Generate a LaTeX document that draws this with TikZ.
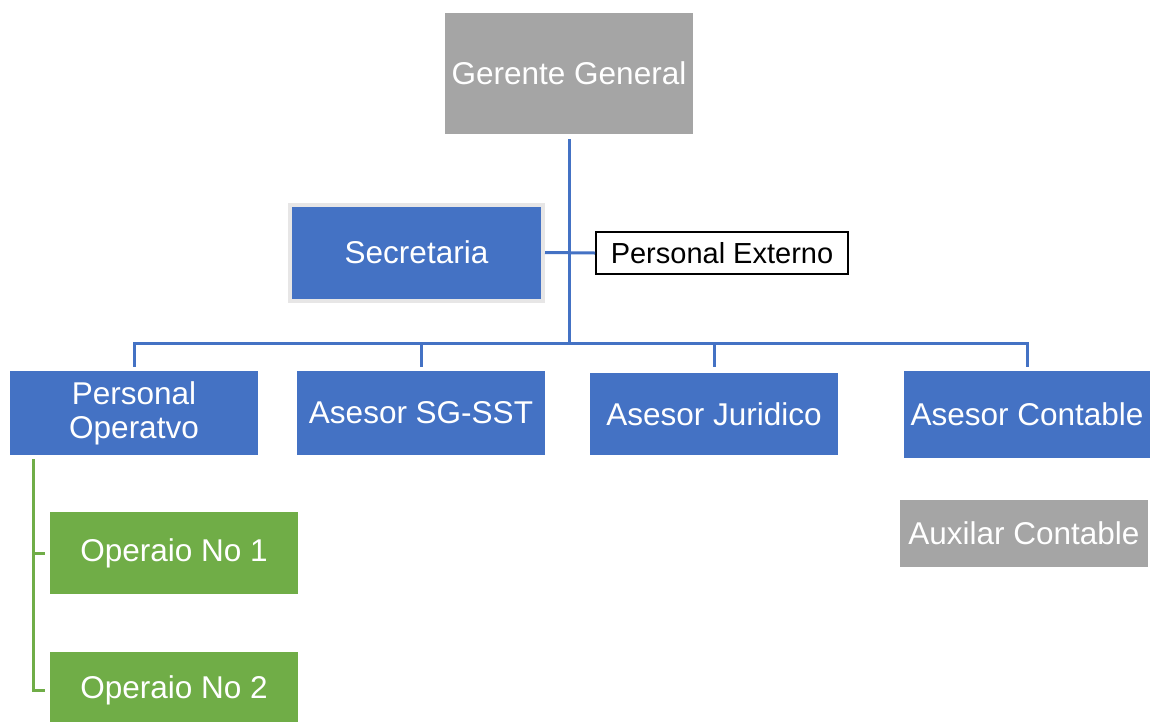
\documentclass[tikz,border=0pt]{standalone}
\usepackage{fontspec}
\setmainfont{Liberation Sans}
\definecolor{gblue}{HTML}{4472C4}
\definecolor{ggray}{HTML}{A5A5A5}
\definecolor{ggreen}{HTML}{70AD47}
\definecolor{gborder}{HTML}{E7E6E6}
\begin{document}
\begin{tikzpicture}[x=1pt,y=-1pt,
  box/.style={inner sep=0pt, text=white, align=center,
    font=\fontsize{31.5}{34}\selectfont, minimum width=248pt},
  bluebox/.style={box, fill=gblue},
  graybox/.style={box, fill=ggray},
  greenbox/.style={box, fill=ggreen},
  bl/.style={draw=gblue, line width=3pt},
  gr/.style={draw=ggreen, line width=3pt}]
\useasboundingbox (0,0) rectangle (1150,721);
\clip (0,0) rectangle (1150,721);
\node[graybox, minimum height=121pt] (ger) at (569,73.5) {Gerente General};
\node[bluebox, draw=gborder, line width=4pt, minimum width=253pt, minimum height=96pt] (sec) at (416.5,252.5) {Secretaria};
\node[draw=black, line width=2pt, fill=white, inner sep=0pt, minimum width=252pt, minimum height=42pt,
  font=\fontsize{29}{32}\selectfont] (ext) at (722,253) {Personal Externo};
\node[bluebox, minimum height=84pt] (po) at (134,413) {Personal\\Operatvo};
\node[bluebox, minimum height=84pt] (sg) at (421,413) {Asesor SG-SST};
\node[bluebox, minimum height=82pt] (jur) at (714,414) {Asesor Juridico};
\node[bluebox, minimum width=246pt, minimum height=87pt] (con) at (1027,414.5) {Asesor Contable};
\node[graybox, minimum height=67pt] (aux) at (1024,533.5) {Auxilar Contable};
\node[greenbox, minimum height=82pt] (op1) at (174,553) {Operaio No 1};
\node[greenbox, minimum height=76pt] (op2) at (174,690) {Operaio No 2};
\coordinate (hub) at (569,343);
\coordinate (g0) at (33,459);
\draw[bl, shorten <=5pt] (ger.south) -- (hub);
\draw[bl] (sec.east) -- (ext.west);
\draw[bl, shorten >=4pt] (hub) -| (po.north);
\draw[bl, shorten >=4pt] (hub) -| (sg.north);
\draw[bl, shorten >=6pt] (hub) -| (jur.north);
\draw[bl, shorten >=4pt] (hub) -| (con.north);
\draw[gr] (g0) |- ([xshift=-5pt]op1.west);
\draw[gr] (g0) |- ([xshift=-5pt]op2.west);
\end{tikzpicture}
\end{document}
